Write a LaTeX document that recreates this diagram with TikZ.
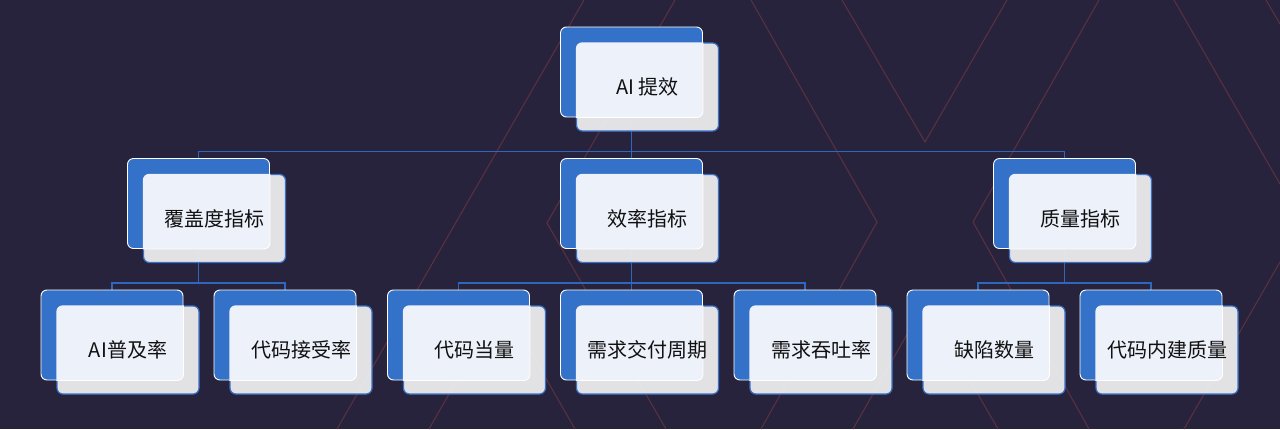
\documentclass[tikz,border=0pt]{standalone}
\usepackage{fontspec}
\usepackage{xcolor}
\usepackage{tikz}
\usetikzlibrary{positioning,backgrounds}
\newfontfamily\cjkfont{Noto Sans CJK SC}
\definecolor{nightbg}{HTML}{28233C}
\definecolor{decored}{HTML}{58303F}
\definecolor{tileblue}{HTML}{3372C8}
\definecolor{edgeblue}{HTML}{3A72CA}
\definecolor{wireblue}{HTML}{2D67BE}
\definecolor{facegray}{HTML}{E9E9EB}
\definecolor{facelight}{HTML}{EDF1FA}
\definecolor{inkdark}{HTML}{111111}
\pgfdeclarelayer{wires}
\pgfsetlayers{background,wires,main}
\tikzset{
  backtile/.style={draw=white, line width=0.9pt, fill=tileblue, rounded corners=6pt, minimum width=142pt, minimum height=90pt, inner sep=0pt},
  fronttile/.style={draw=edgeblue, line width=1.2pt, fill=facegray, fill opacity=0.97, rounded corners=6pt, minimum width=142pt, minimum height=88pt, inner sep=0pt},
  tiletext/.style={font=\cjkfont\fontsize{20}{24}\selectfont, text=inkdark, inner sep=0pt},
  wire/.style={draw=wireblue, line width=1.4pt},
  deco/.style={draw=decored, line width=1.1pt},
  kpi/.pic={
    \node[backtile] (-b) at (0,0) {};
    \node[fronttile] (-f) at (16,15) {};
    \begin{scope}
      \clip[rounded corners=6pt] (-f.north west) rectangle (-f.south east);
      \fill[facelight, rounded corners=6pt] (-b.north west) rectangle (-b.south east);
      \draw[white, line width=0.9pt, rounded corners=6pt] (-b.north west) rectangle (-b.south east);
    \end{scope}
    \node[tiletext] (-t) at (-f) {#1};
  }
}

\begin{document}
\begin{tikzpicture}[x=1pt, y=-1pt]
  \useasboundingbox (0,0) rectangle (1280,429);
  \begin{pgfonlayer}{background}
    \fill[nightbg] (0,0) rectangle (1280,429);
    % faint backdrop strokes
    \draw[deco] (584,0) -- (337,429);
    \draw[deco] (675,0) -- (547,223) -- (666,429);
    \draw[deco] (429,429) -- (502,302) -- (575,429);
    \draw[deco] (751,0) -- (877,222) -- (761,429);
    \draw[deco] (842,0) -- (925,142) -- (1007,0);
    \draw[deco] (853,429) -- (925,303) -- (998,429);
    \draw[deco] (1099,0) -- (973,222) -- (1089,429);
    \draw[deco] (1174,0) -- (1280,184);
    \draw[deco] (1266,0) -- (1280,24);
    \draw[deco] (1184,429) -- (1280,262);
  \end{pgfonlayer}

  \pic (top) at (631.5,72) {kpi={AI 提效}};

  \pic (cover) at (198.5,203.5) {kpi={覆盖度指标}};
  \pic (speed) at (631.5,203.5) {kpi={效率指标}};
  \pic (quality) at (1064.5,203.5) {kpi={质量指标}};

  \pic (adopt) at (112,335) {kpi={AI普及率}};
  \pic (accept) at (285,335) {kpi={代码接受率}};
  \pic (equiv) at (458.5,335) {kpi={代码当量}};
  \pic (cycle) at (631.5,335) {kpi={需求交付周期}};
  \pic (thru) at (805,335) {kpi={需求吞吐率}};
  \pic (defect) at (978,335) {kpi={缺陷数量}};
  \pic (inbuilt) at (1151,335) {kpi={代码内建质量}};

  \begin{pgfonlayer}{wires}
    \draw[wire] (top-b.south) -- ++(0,34) -| (cover-b.north);
    \draw[wire] (top-b.south) -- (speed-b.north);
    \draw[wire] (top-b.south) -- ++(0,34) -| (quality-b.north);
    \draw[wire] (cover-b.south) -- ++(0,34) -| (adopt-b.north);
    \draw[wire] (cover-b.south) -- ++(0,34) -| (accept-b.north);
    \draw[wire] (speed-b.south) -- ++(0,34) -| (equiv-b.north);
    \draw[wire] (speed-b.south) -- (cycle-b.north);
    \draw[wire] (speed-b.south) -- ++(0,34) -| (thru-b.north);
    \draw[wire] (quality-b.south) -- ++(0,34) -| (defect-b.north);
    \draw[wire] (quality-b.south) -- ++(0,34) -| (inbuilt-b.north);
  \end{pgfonlayer}
\end{tikzpicture}
\end{document}
